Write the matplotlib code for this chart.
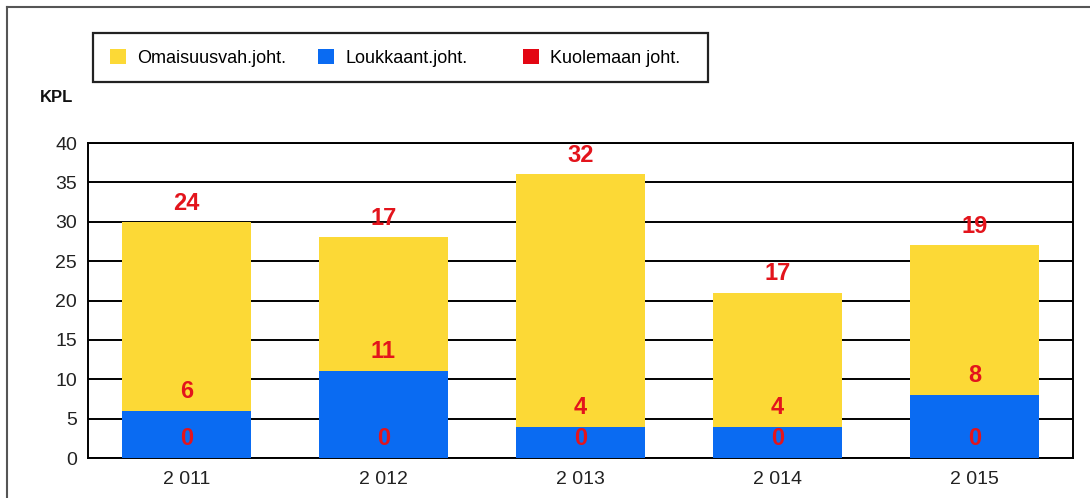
import matplotlib
matplotlib.use("Agg")
import matplotlib.pyplot as plt
import numpy as np
from matplotlib.patches import Rectangle
from matplotlib.lines import Line2D

plt.rcParams['font.family'] = ['Liberation Sans', 'DejaVu Sans']

years = ["2 011", "2 012", "2 013", "2 014", "2 015"]
kuolemaan = [0, 0, 0, 0, 0]
loukkaant = [6, 11, 4, 4, 8]
omaisuus = [24, 17, 32, 17, 19]
series_names = ["Omaisuusvah.joht.", "Loukkaant.joht.", "Kuolemaan joht."]

c_yellow = "#FCD936"
c_blue = "#0A6BF2"
c_red = "#E30613"
c_label = "#E3141C"

W, H = 1090, 498
fig = plt.figure(figsize=(W / 100, H / 100), dpi=100)
ax = fig.add_axes([88 / W, 1 - 458 / H, (1073 - 88) / W, (458 - 143) / H])

x = np.arange(len(years))
width = 0.65
k = np.array(kuolemaan)
l = np.array(loukkaant)
o = np.array(omaisuus)

b_red = ax.bar(x, k, width, color=c_red, zorder=3)
b_blue = ax.bar(x, l, width, bottom=k, color=c_blue, zorder=3)
b_yel = ax.bar(x, o, width, bottom=k + l, color=c_yellow, zorder=3)

label_kw = dict(textcoords="offset points", ha="center", va="center",
                color=c_label, fontsize=17, fontweight="bold", zorder=5)
for xi, v, top in zip(x, k, k):
    ax.annotate(str(v), (xi, top), xytext=(0, 14), **label_kw)
for xi, v, top in zip(x, l, k + l):
    ax.annotate(str(v), (xi, top), xytext=(0, 14), **label_kw)
for xi, v, top in zip(x, o, k + l + o):
    ax.annotate(str(v), (xi, top), xytext=(0, 13.5), **label_kw)

ax.set_xlim(-0.5, len(years) - 0.5)
ax.set_ylim(0, 40)
ax.set_yticks(np.arange(0, 41, 5))
ax.set_xticks(x)
ax.set_xticklabels(years)
ax.tick_params(axis="both", length=0, labelsize=14, colors="#222222")
ax.tick_params(axis="y", pad=8)
ax.tick_params(axis="x", pad=9)
ax.yaxis.grid(True, color="black", linewidth=1.4, zorder=1)
ax.set_axisbelow(True)
for s in ax.spines.values():
    s.set_color("black")
    s.set_linewidth(1.4)

fig.text(40 / W, 1 - 97 / H, "KPL", fontsize=12, fontweight="bold", ha="left", va="center", color="#111111")

# legend box
fig.add_artist(Rectangle((93 / W, 1 - 82 / H), (708 - 93) / W, (82 - 33) / H,
                         transform=fig.transFigure, fill=False, edgecolor="#222222", linewidth=1.6))
handles = [b_yel, b_blue, b_red]
xs = [110, 318, 523]
for h, name, xp in zip(handles, series_names, xs):
    fig.legend([h], [name], loc="center left", bbox_to_anchor=(xp / W, 1 - 58 / H),
               frameon=False, fontsize=13, borderpad=0, borderaxespad=0,
               handlelength=0.9, handleheight=0.9, handletextpad=0.6)

# outer frame
fig.add_artist(Line2D([7 / W, 7 / W], [0, 1 - 7 / H], transform=fig.transFigure, color="#555555", linewidth=1.5))
fig.add_artist(Line2D([7 / W, 1], [1 - 7 / H, 1 - 7 / H], transform=fig.transFigure, color="#555555", linewidth=1.5))

fig.savefig("out.png", dpi=100)
